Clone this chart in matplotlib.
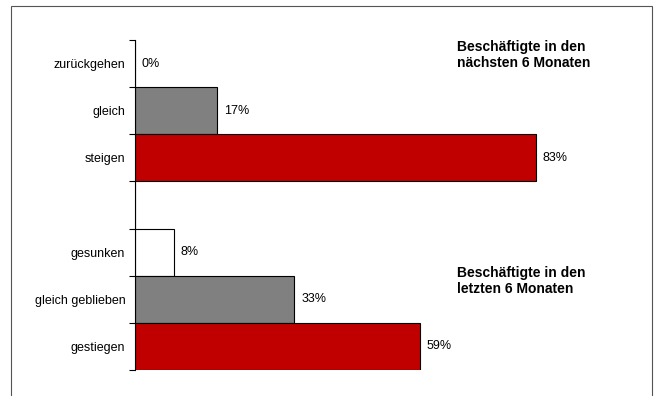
import matplotlib.pyplot as plt
import numpy as np
from matplotlib.patches import Rectangle

plt.rcParams['font.family'] = ['Liberation Sans', 'DejaVu Sans']

# Kategorien von oben nach unten (leerer Platz zwischen den Gruppen)
categories = ['zurückgehen', 'gleich', 'steigen', '',
              'gesunken', 'gleich geblieben', 'gestiegen']
values = [0, 17, 83, np.nan, 8, 33, 59]
colors = ['white', '#808080', '#C00000', 'white',
          'white', '#808080', '#C00000']
title_next = 'Beschäftigte in den\nnächsten 6 Monaten'
title_last = 'Beschäftigte in den\nletzten 6 Monaten'

fig = plt.figure(figsize=(6.55, 3.96), dpi=100)
ax = fig.add_axes([135 / 655, 26 / 396, 483 / 655, 330 / 396])

y = np.arange(len(categories))
vals = np.nan_to_num(values)
ax.barh(y, vals, height=1.0, color=colors, edgecolor='black', linewidth=0.8)

for yi, v in zip(y, values):
    if np.isnan(v):
        continue
    ax.annotate(f'{v:.0f}%', xy=(v, yi), xytext=(5, 0), textcoords='offset points',
                va='center', ha='left', fontsize=9)

ax.set_xlim(0, 100)
ax.set_ylim(len(categories) - 0.5, -0.5)
ax.set_yticks(y)
ax.set_yticklabels(categories, fontsize=9)
ax.set_yticks(np.arange(len(categories) + 1) - 0.5, minor=True)
ax.tick_params(axis='y', which='major', length=0, pad=7)
ax.tick_params(axis='y', which='minor', length=4, width=0.8, color='black')
ax.xaxis.set_visible(False)
for s in ['top', 'right', 'bottom']:
    ax.spines[s].set_visible(False)
ax.spines['left'].set_linewidth(0.8)

fig.text(457 / 655, 1 - 40 / 396, title_next, fontsize=10, fontweight='bold',
         va='top', ha='left', linespacing=1.15)
fig.text(457 / 655, 1 - 266 / 396, title_last, fontsize=10, fontweight='bold',
         va='top', ha='left', linespacing=1.15)

# Rahmen um das Diagramm
fig.patches.append(Rectangle((11 / 655, -0.05), (652 - 11) / 655, 1.05 - 6 / 396,
                             transform=fig.transFigure, fill=False,
                             edgecolor='#555555', linewidth=0.8))

fig.savefig('out.png', dpi=100)
